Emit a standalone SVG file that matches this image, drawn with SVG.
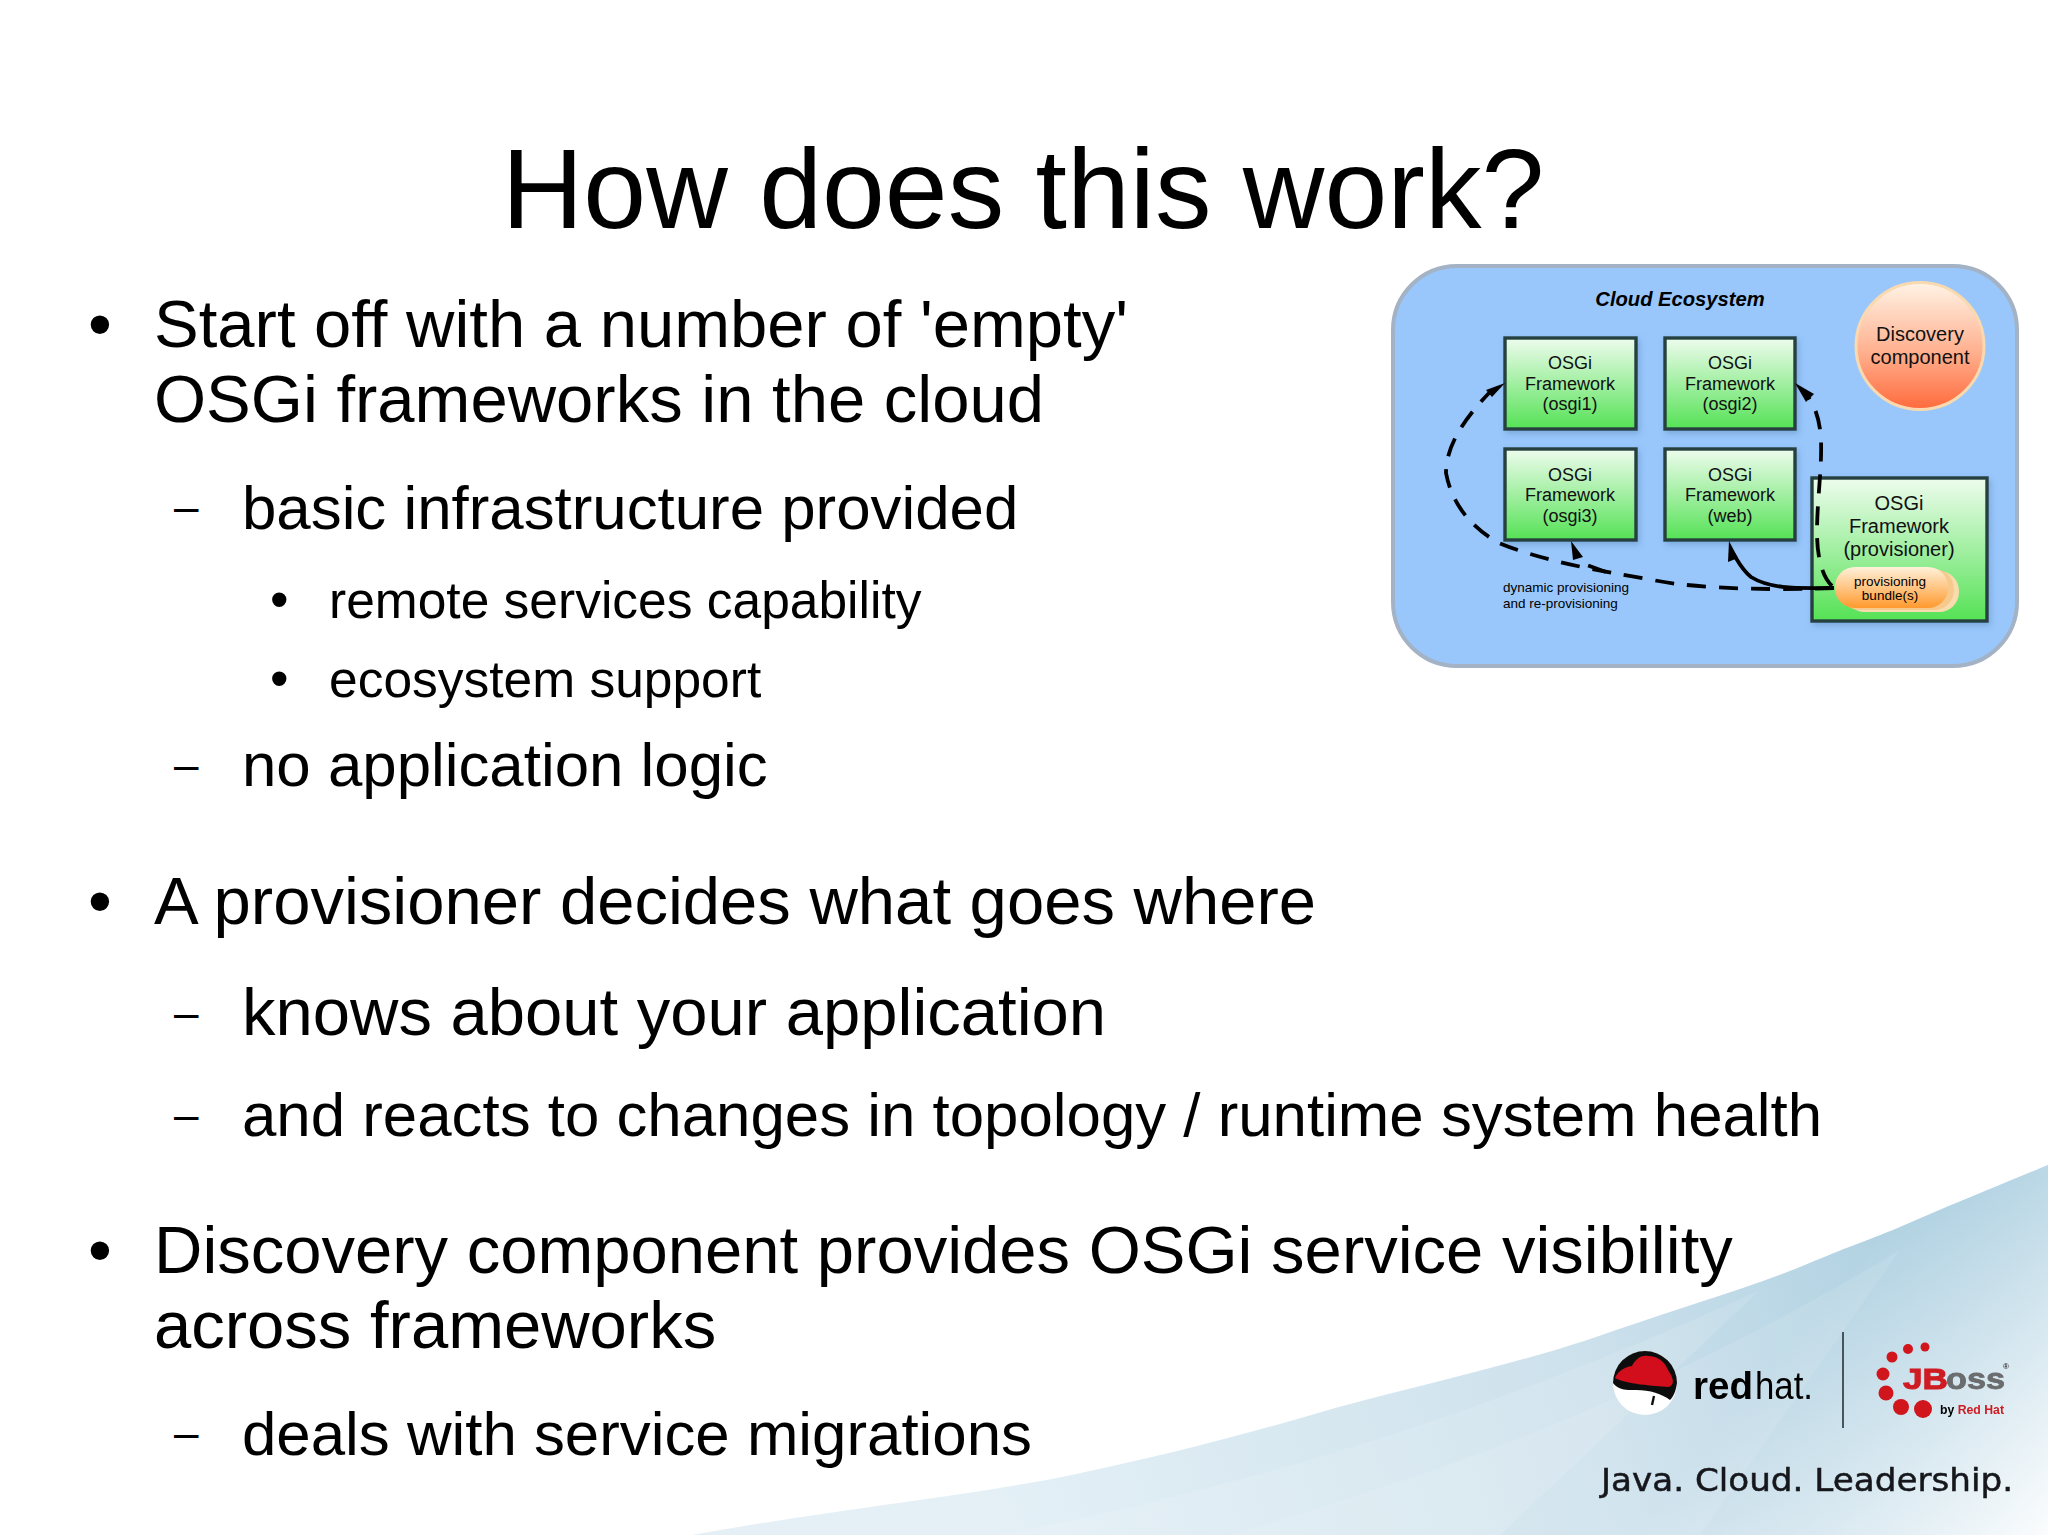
<svg xmlns="http://www.w3.org/2000/svg" width="2048" height="1535" viewBox="0 0 2048 1535">
<style>
text{font-family:"Liberation Sans",Arial,sans-serif;fill:#000}
.l1{font-size:67px}.l2{font-size:61.8px}.l3{font-size:51.5px}
.b1{font-size:68px}.b2{font-size:44px}.b3{font-size:53px}
.fw{font-size:18px;text-anchor:middle;fill:#111}
.fw2{font-size:20px;text-anchor:middle;fill:#111}
.box{fill:url(#green);stroke:#26413f;stroke-width:3.4;filter:url(#sh)}
.dash{fill:none;stroke:#000;stroke-width:3.8;stroke-dasharray:19 13}
.solid{fill:none;stroke:#000;stroke-width:3.8}
.head{fill:#000}
.dot{fill:#d0141c}
</style>
<defs>
<linearGradient id="green" x1="0" y1="0" x2="0" y2="1"><stop offset="0" stop-color="#eefcee"/><stop offset="1" stop-color="#55e255"/></linearGradient>
<linearGradient id="orange" x1="0" y1="0" x2="0" y2="1"><stop offset="0" stop-color="#fff1da"/><stop offset="1" stop-color="#ff9a2e"/></linearGradient>
<linearGradient id="red" x1="0" y1="0" x2="0" y2="1"><stop offset="0" stop-color="#fff3e6"/><stop offset="0.55" stop-color="#ffb08e"/><stop offset="1" stop-color="#ff6a3c"/></linearGradient>
<linearGradient id="sw" gradientUnits="userSpaceOnUse" x1="1000" y1="1535" x2="2048" y2="1180"><stop offset="0" stop-color="#e4f0f6"/><stop offset="0.55" stop-color="#cde1ec"/><stop offset="1" stop-color="#a3cadd"/></linearGradient>
<linearGradient id="fade" gradientUnits="userSpaceOnUse" x1="1800" y1="1330" x2="2048" y2="1535"><stop offset="0" stop-color="#fff" stop-opacity="0"/><stop offset="1" stop-color="#fff" stop-opacity="0.95"/></linearGradient>
<filter id="sh" x="-10%" y="-10%" width="125%" height="125%"><feDropShadow dx="2" dy="3" stdDeviation="3" flood-color="#3a5f90" flood-opacity="0.3"/></filter>
<filter id="soft"><feGaussianBlur stdDeviation="0.55"/></filter>
</defs>
<rect width="2048" height="1535" fill="#fff"/>
<g id="swoosh">
<path d="M692 1535C830 1510 960 1497 1062 1477C1170 1455 1260 1430 1339 1407C1440 1380 1540 1358 1616 1330C1680 1308 1750 1287 1800 1267C1840 1250 1860 1243 1893 1230C1950 1205 2000 1185 2048 1165V1535Z" fill="url(#sw)"/>
<path d="M1000 1535C1280 1480 1520 1400 1760 1290L1500 1535Z" fill="#fff" opacity="0.12"/>
<path d="M1230 1535C1450 1470 1650 1400 1900 1250L1700 1535Z" fill="#fff" opacity="0.1"/>
<path d="M692 1535C830 1510 960 1497 1062 1477C1170 1455 1260 1430 1339 1407C1440 1380 1540 1358 1616 1330C1680 1308 1750 1287 1800 1267C1840 1250 1860 1243 1893 1230C1950 1205 2000 1185 2048 1165V1535Z" fill="url(#fade)"/>
</g>
<text id="title" x="1023" y="228" text-anchor="middle" font-size="113">How does this work?</text>
<g id="body">
<text class="b1" x="88" y="347">•</text>
<text class="l1" x="154" y="347">Start off with a number of 'empty'</text>
<text class="l1" x="154" y="422">OSGi frameworks in the cloud</text>
<text class="b2" x="174" y="522">–</text>
<text class="l2" x="242" y="529">basic infrastructure provided</text>
<text class="b3" x="270" y="618">•</text>
<text class="l3" x="329" y="618">remote services capability</text>
<text class="b3" x="270" y="697">•</text>
<text class="l3" x="329" y="697">ecosystem support</text>
<text class="b2" x="174" y="780">–</text>
<text class="l2" x="242" y="786">no application logic</text>
<text class="b1" x="88" y="924">•</text>
<text class="l1" x="154" y="924">A provisioner decides what goes where</text>
<text class="b2" x="174" y="1028">–</text>
<text x="242" y="1035" style="font-size:67px">knows about your application</text>
<text class="b2" x="174" y="1130">–</text>
<text class="l2" x="242" y="1136">and reacts to changes in topology / runtime system health</text>
<text class="b1" x="88" y="1273">•</text>
<text class="l1" x="154" y="1273">Discovery component provides OSGi service visibility</text>
<text class="l1" x="154" y="1348">across frameworks</text>
<text class="b2" x="174" y="1448">–</text>
<text class="l2" x="242" y="1455">deals with service migrations</text>
</g>
<g id="ecosystem">
<rect x="1393" y="266" width="624" height="400" rx="64" ry="64" fill="#99c7fc" stroke="#a3b2c4" stroke-width="4"/>
<text x="1680" y="306" text-anchor="middle" font-size="20.2" font-weight="bold" font-style="italic">Cloud Ecosystem</text>
</g>
<g id="discovery">
<ellipse cx="1920" cy="346" rx="64" ry="63.5" fill="url(#red)" stroke="#f8d9b0" stroke-width="3"/>
<text class="fw2" x="1920" y="341">Discovery</text>
<text class="fw2" x="1920" y="364">component</text>
</g>
<g id="osgi1">
<rect class="box" x="1505" y="338" width="131" height="91"/>
<text class="fw" x="1570" y="369">OSGi</text><text class="fw" x="1570" y="390">Framework</text><text class="fw" x="1570" y="410">(osgi1)</text>
</g>
<g id="osgi2">
<rect class="box" x="1665" y="338" width="130" height="91"/>
<text class="fw" x="1730" y="369">OSGi</text><text class="fw" x="1730" y="390">Framework</text><text class="fw" x="1730" y="410">(osgi2)</text>
</g>
<g id="osgi3">
<rect class="box" x="1505" y="449" width="131" height="91"/>
<text class="fw" x="1570" y="481">OSGi</text><text class="fw" x="1570" y="501">Framework</text><text class="fw" x="1570" y="522">(osgi3)</text>
</g>
<g id="web">
<rect class="box" x="1665" y="449" width="130" height="91"/>
<text class="fw" x="1730" y="481">OSGi</text><text class="fw" x="1730" y="501">Framework</text><text class="fw" x="1730" y="522">(web)</text>
</g>
<g id="provisioner">
<rect class="box" x="1812" y="478" width="175" height="143"/>
<text class="fw2" x="1899" y="510">OSGi</text><text class="fw2" x="1899" y="533">Framework</text><text class="fw2" x="1899" y="556">(provisioner)</text>
</g>
<g id="bundle">
<rect x="1845" y="571" width="114" height="41" rx="20" fill="#f8dcae"/>
<rect x="1840" y="569" width="114" height="41" rx="20" fill="#f7c98d"/>
<rect x="1835" y="567" width="113" height="41" rx="20" fill="url(#orange)"/>
<text x="1890" y="586" text-anchor="middle" font-size="13.5" fill="#111">provisioning</text>
<text x="1890" y="600" text-anchor="middle" font-size="13.5" fill="#111">bundle(s)</text>
</g>
<g id="connectors">
<path class="dash" d="M1834 588C1790 590 1700 590 1653 580C1593 570 1540 560 1499 543C1472 528 1452 505 1446 473C1446 445 1465 418 1490 392"/>
<path class="head" d="M1505 383L1486 390L1492 397Z"/>
<path class="dash" d="M1832 586C1820 575 1817 550 1817 533C1817 500 1822 470 1821 440C1820 420 1815 405 1806 394"/>
<path class="head" d="M1795 383L1814 394L1806 402Z"/>
<path class="dash" d="M1606 572L1584 564"/>
<path class="head" d="M1571 541L1583 557L1573 560Z"/>
<path class="solid" d="M1834 588C1800 588 1772 590 1751 577C1740 568 1735 555 1732 552"/>
<path class="head" d="M1729 541L1738 558L1728 562Z"/>
</g>
<g id="caption">
<text x="1503" y="592" font-size="13.5" fill="#111">dynamic provisioning</text>
<text x="1503" y="608" font-size="13.5" fill="#111">and re-provisioning</text>
</g>
<g id="redhat" filter="url(#soft)">
<circle cx="1645" cy="1383" r="32" fill="#fff"/>
<path d="M1613 1383A32 32 0 0 1 1677 1383C1676 1390 1674 1396 1670 1400C1662 1394 1650 1390 1636 1390C1626 1390 1618 1390 1613 1383Z" fill="#111"/>
<path d="M1615 1378C1618 1370 1628 1366 1632 1366C1636 1358 1642 1355 1648 1356C1656 1356 1664 1360 1668 1370C1675 1380 1674 1386 1668 1387C1655 1386 1625 1384 1615 1378Z" fill="#d2101a"/>
<path d="M1654 1396L1652 1405" stroke="#111" stroke-width="2.4"/>
<text x="1693" y="1399" font-size="38" font-weight="bold" fill="#1c1c20" textLength="60" lengthAdjust="spacingAndGlyphs">red</text>
<text x="1755" y="1399" font-size="38" fill="#3a3a3e" textLength="58" lengthAdjust="spacingAndGlyphs">hat.</text>
</g>
<line id="divider" x1="1843" y1="1332" x2="1843" y2="1428" stroke="#2a3338" stroke-width="1.6"/>
<g id="jboss" filter="url(#soft)">
<circle class="dot" cx="1925" cy="1347" r="4.5"/>
<circle class="dot" cx="1908" cy="1349" r="5"/>
<circle class="dot" cx="1892" cy="1357" r="5.5"/>
<circle class="dot" cx="1883" cy="1374" r="6.5"/>
<circle class="dot" cx="1886" cy="1393" r="7.5"/>
<circle class="dot" cx="1901" cy="1407" r="8"/>
<circle class="dot" cx="1923" cy="1409" r="9"/>
<text x="1903" y="1389" font-size="30" font-weight="bold" style="fill:#cf1b22;stroke:#cf1b22;stroke-width:1" textLength="45" lengthAdjust="spacingAndGlyphs">JB</text>
<text x="1946" y="1389" font-size="30" font-weight="bold" style="fill:#6a6c6e;stroke:#6a6c6e;stroke-width:.8" textLength="59" lengthAdjust="spacingAndGlyphs">oss</text>
<text x="2003" y="1369" font-size="8" fill="#777">®</text>
<text x="1940" y="1414" font-size="12" font-weight="bold" fill="#777" textLength="64" lengthAdjust="spacingAndGlyphs">by <tspan fill="#cf1b22">Red Hat</tspan></text>
</g>
<text id="tagline" x="1601" y="1491" filter="url(#soft)" style="font-family:'DejaVu Sans',sans-serif;fill:#15181c;stroke:#15181c;stroke-width:.5" font-size="32" textLength="412" lengthAdjust="spacingAndGlyphs">Java. Cloud. Leadership.</text>
</svg>
